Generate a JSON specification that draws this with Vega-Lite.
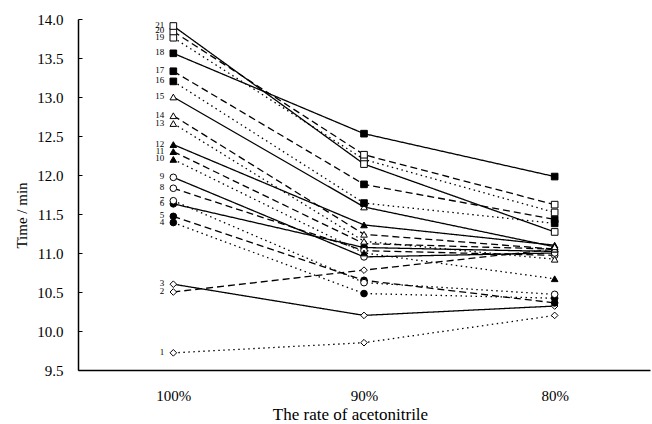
{
  "$schema": "https://vega.github.io/schema/vega-lite/v6.json",
  "width": 572,
  "height": 351,
  "autosize": {"type": "none"},
  "padding": {"left": 78, "top": 19, "right": 2, "bottom": 54},
  "background": "white",
  "config": {
    "view": {"stroke": null},
    "font": "Liberation Serif, DejaVu Serif, serif",
    "axis": {"labelFont": "Liberation Serif, DejaVu Serif, serif", "titleFont": "Liberation Serif, DejaVu Serif, serif", "labelColor": "black", "titleColor": "black", "domainColor": "black", "tickColor": "black", "grid": false, "titleFontWeight": "normal"}
  },
  "data": {
    "values": [
      {"s": 1, "r": "100%", "t": 9.72}, {"s": 1, "r": "90%", "t": 9.85}, {"s": 1, "r": "80%", "t": 10.2},
      {"s": 2, "r": "100%", "t": 10.5}, {"s": 2, "r": "90%", "t": 10.78}, {"s": 2, "r": "80%", "t": 11.05},
      {"s": 3, "r": "100%", "t": 10.6}, {"s": 3, "r": "90%", "t": 10.2}, {"s": 3, "r": "80%", "t": 10.32},
      {"s": 4, "r": "100%", "t": 11.39}, {"s": 4, "r": "90%", "t": 10.48}, {"s": 4, "r": "80%", "t": 10.42},
      {"s": 5, "r": "100%", "t": 11.47}, {"s": 5, "r": "90%", "t": 10.65}, {"s": 5, "r": "80%", "t": 10.36},
      {"s": 6, "r": "100%", "t": 11.63}, {"s": 6, "r": "90%", "t": 11.07}, {"s": 6, "r": "80%", "t": 11.02},
      {"s": 7, "r": "100%", "t": 11.67}, {"s": 7, "r": "90%", "t": 10.62}, {"s": 7, "r": "80%", "t": 10.47},
      {"s": 8, "r": "100%", "t": 11.83}, {"s": 8, "r": "90%", "t": 11.03}, {"s": 8, "r": "80%", "t": 10.97},
      {"s": 9, "r": "100%", "t": 11.97}, {"s": 9, "r": "90%", "t": 10.95}, {"s": 9, "r": "80%", "t": 11.0},
      {"s": 10, "r": "100%", "t": 12.2}, {"s": 10, "r": "90%", "t": 11.0}, {"s": 10, "r": "80%", "t": 10.67},
      {"s": 11, "r": "100%", "t": 12.3}, {"s": 11, "r": "90%", "t": 11.12}, {"s": 11, "r": "80%", "t": 11.05},
      {"s": 12, "r": "100%", "t": 12.39}, {"s": 12, "r": "90%", "t": 11.36}, {"s": 12, "r": "80%", "t": 11.1},
      {"s": 13, "r": "100%", "t": 12.66}, {"s": 13, "r": "90%", "t": 11.15}, {"s": 13, "r": "80%", "t": 10.92},
      {"s": 14, "r": "100%", "t": 12.76}, {"s": 14, "r": "90%", "t": 11.24}, {"s": 14, "r": "80%", "t": 11.05},
      {"s": 15, "r": "100%", "t": 13.0}, {"s": 15, "r": "90%", "t": 11.59}, {"s": 15, "r": "80%", "t": 11.08},
      {"s": 16, "r": "100%", "t": 13.2}, {"s": 16, "r": "90%", "t": 11.64}, {"s": 16, "r": "80%", "t": 11.38},
      {"s": 17, "r": "100%", "t": 13.33}, {"s": 17, "r": "90%", "t": 11.88}, {"s": 17, "r": "80%", "t": 11.43},
      {"s": 18, "r": "100%", "t": 13.56}, {"s": 18, "r": "90%", "t": 12.53}, {"s": 18, "r": "80%", "t": 11.98},
      {"s": 19, "r": "100%", "t": 13.76}, {"s": 19, "r": "90%", "t": 12.2}, {"s": 19, "r": "80%", "t": 11.52},
      {"s": 20, "r": "100%", "t": 13.84}, {"s": 20, "r": "90%", "t": 12.26}, {"s": 20, "r": "80%", "t": 11.62},
      {"s": 21, "r": "100%", "t": 13.91}, {"s": 21, "r": "90%", "t": 12.14}, {"s": 21, "r": "80%", "t": 11.27}
    ]
  },
  "encoding": {
    "x": {
      "field": "r", "type": "ordinal", "sort": ["100%", "90%", "80%"],
      "scale": {"type": "point", "padding": 0.5},
      "axis": {"title": "The rate of acetonitrile", "labelAngle": 0, "ticks": false, "labelPadding": 18, "labelFontSize": 15, "titleFontSize": 17, "titleX": 272, "titleY": 44, "titleAlign": "center", "titleBaseline": "middle", "domainWidth": 1.5}
    },
    "y": {
      "field": "t", "type": "quantitative",
      "scale": {"domain": [9.5, 14], "nice": false, "zero": false},
      "axis": {"title": "Time / min", "values": [9.5, 10, 10.5, 11, 11.5, 12, 12.5, 13, 13.5, 14], "format": ".1f", "tickSize": -4, "labelPadding": 19, "labelFontSize": 15, "titleFontSize": 15, "titleX": -57, "titleY": 196, "titleAngle": -90, "titleAlign": "center", "titleBaseline": "middle", "domainWidth": 1.5}
    }
  },
  "layer": [
    {
      "mark": {"type": "line", "color": "black", "strokeWidth": 1.3},
      "encoding": {
        "detail": {"field": "s", "type": "nominal"},
        "strokeDash": {
          "field": "s", "type": "nominal", "legend": null,
          "scale": {
            "domain": [1,2,3,4,5,6,7,8,9,10,11,12,13,14,15,16,17,18,19,20,21],
            "range": [[1.5,3.5],[7,4],[1,0],[1.5,3.5],[7,4],[1,0],[1.5,3.5],[7,4],[1,0],[1.5,3.5],[7,4],[1,0],[1.5,3.5],[7,4],[1,0],[1.5,3.5],[7,4],[1,0],[1.5,3.5],[7,4],[1,0]]
          }
        }
      }
    },
    {
      "mark": {"type": "point", "stroke": "black", "strokeWidth": 1, "size": 44, "opacity": 1},
      "encoding": {
        "shape": {
          "field": "s", "type": "nominal", "legend": null,
          "scale": {
            "domain": [1,2,3,4,5,6,7,8,9,10,11,12,13,14,15,16,17,18,19,20,21],
            "range": ["diamond","diamond","diamond","circle","circle","circle","circle","circle","circle","triangle-up","triangle-up","triangle-up","triangle-up","triangle-up","triangle-up","square","square","square","square","square","square"]
          }
        },
        "fill": {
          "field": "s", "type": "nominal", "legend": null,
          "scale": {
            "domain": [1,2,3,4,5,6,7,8,9,10,11,12,13,14,15,16,17,18,19,20,21],
            "range": ["white","white","white","black","black","black","white","white","white","black","black","black","white","white","white","black","black","black","white","white","white"]
          }
        }
      }
    },
    {
      "transform": [{"filter": "datum.r === '100%'"}],
      "mark": {"type": "text", "align": "right", "baseline": "middle", "dx": -9, "dy": -1, "fontSize": 9, "font": "Liberation Serif, DejaVu Serif, serif", "color": "black"},
      "encoding": {"text": {"field": "s", "type": "nominal"}}
    }
  ]
}
